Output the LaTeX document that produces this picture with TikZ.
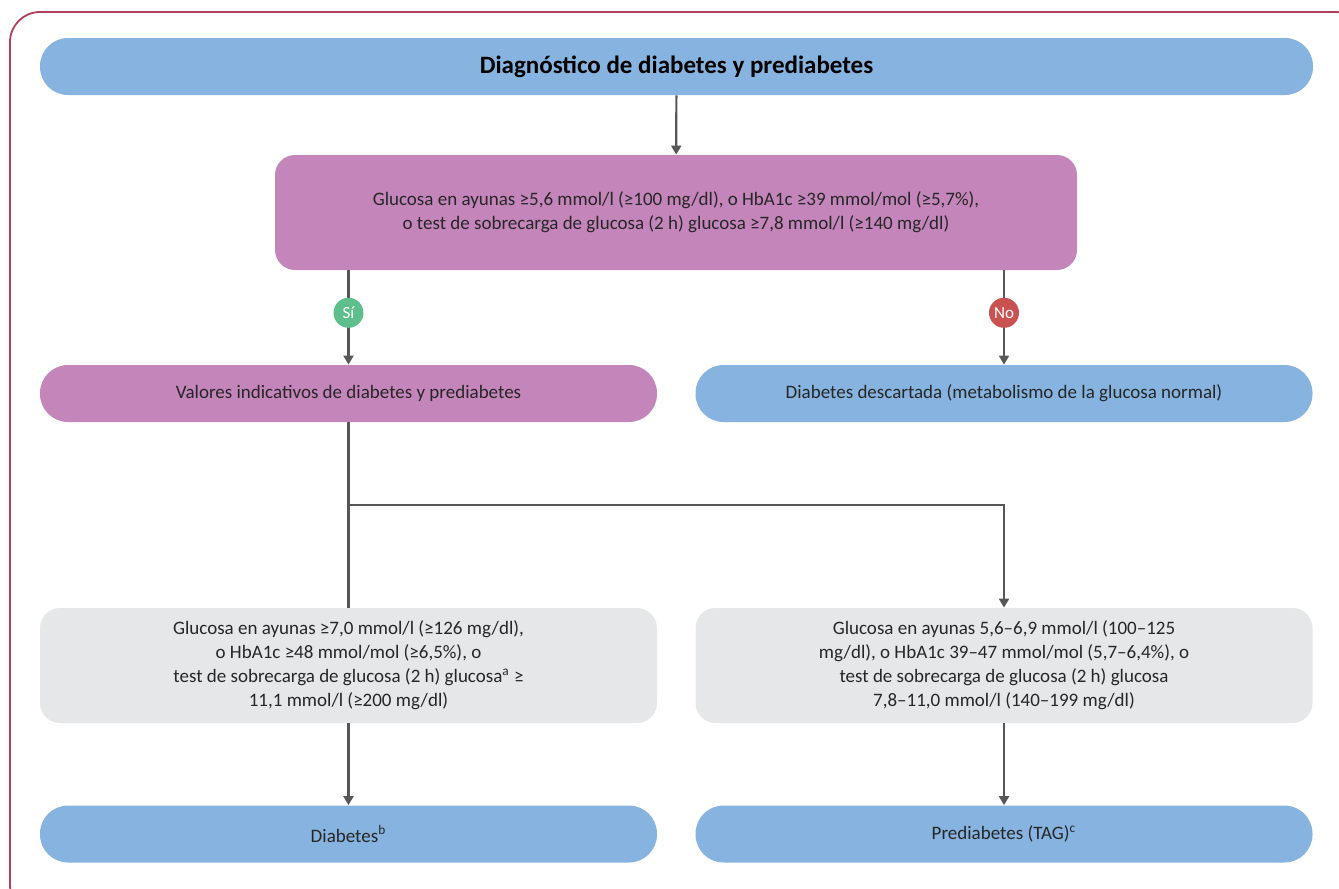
\documentclass[tikz,border=0pt]{standalone}
\usepackage{fontspec}
\setmainfont{Carlito}
\usetikzlibrary{arrows.meta, positioning}
\definecolor{diagBlue}{HTML}{86B3DF}
\definecolor{diagPurple}{HTML}{C485BA}
\definecolor{diagGray}{HTML}{E6E7E8}
\definecolor{lineGray}{HTML}{575757}
\definecolor{siGreen}{HTML}{5FBF8C}
\definecolor{noRed}{HTML}{C9514F}
\definecolor{frameRed}{HTML}{B23E5A}

\begin{document}
\begin{tikzpicture}[x=0.5pt, y=-0.5pt,
    pill/.style={rectangle, rounded corners=14pt, minimum width=308.5pt,
                 minimum height=28.5pt, align=center, inner sep=2pt,
                 font=\fontsize{9.5}{12}\selectfont\color{black!85}},
    block/.style={rectangle, rounded corners=10pt, minimum width=308.5pt,
                  minimum height=57.5pt, align=center, inner sep=2pt,
                  font=\fontsize{9.5}{12}\selectfont\color{black!85}},
    tag/.style={circle, minimum size=15pt, inner sep=0pt,
                font=\fontsize{8.5}{10}\selectfont\color{white}},
    link/.style={draw=lineGray, line width=1.1pt,
                 -{Triangle[length=4.5pt, width=5pt]}},
  ]
    \useasboundingbox (0,0) rectangle (1339,889);
    \draw[frameRed, line width=0.9pt, rounded corners=15pt]
      (10,12) rectangle (1365,915);

    \node[pill, fill=diagBlue, minimum width=636.5pt,
          font=\bfseries\fontsize{12.5}{15}\selectfont] (title) at (676.5,66.5)
      {Diagnóstico de diabetes y prediabetes};
    \node[block, fill=diagPurple, minimum width=401pt] (screen) at (676,212.5)
      {Glucosa en ayunas ≥5,6 mmol/l (≥100 mg/dl), o HbA1c ≥39 mmol/mol (≥5,7\%),\\
       o test de sobrecarga de glucosa (2 h) glucosa ≥7,8 mmol/l (≥140 mg/dl)};
    \node[pill, fill=diagPurple] (indic) at (348.5,393.5)
      {Valores indicativos de diabetes y prediabetes};
    \node[pill, fill=diagBlue] (normal) at (1004,393.5)
      {Diabetes descartada (metabolismo de la glucosa normal)};
    \node[block, fill=diagGray] (critDM) at (348.5,665.5)
      {Glucosa en ayunas ≥7,0 mmol/l (≥126 mg/dl),\\
       o HbA1c ≥48 mmol/mol (≥6,5\%), o\\
       test de sobrecarga de glucosa (2 h) glucosa\textsuperscript{a} ≥\\
       11,1 mmol/l (≥200 mg/dl)};
    \node[block, fill=diagGray] (critPre) at (1004,665.5)
      {Glucosa en ayunas 5,6–6,9 mmol/l (100–125\\
       mg/dl), o HbA1c 39–47 mmol/mol (5,7–6,4\%), o\\
       test de sobrecarga de glucosa (2 h) glucosa\\
       7,8–11,0 mmol/l (140–199 mg/dl)};
    \node[pill, fill=diagBlue] (dm) at (348.5,834) {Diabetes\textsuperscript{b}};
    \node[pill, fill=diagBlue] (pre) at (1004,834) {Prediabetes (TAG)\textsuperscript{c}};

    % connectors
    \draw[link] (title) -- (screen);
    \draw[link] (screen.south -| indic) -- node[tag, fill=siGreen, pos=0.45] (si) {Sí} (indic);
    \draw[link] (screen.south -| normal) -- node[tag, fill=noRed, pos=0.45] (no) {No} (normal);
    \coordinate (split) at (348.5,505);
    \draw[link, -] (indic) -- (critDM);
    \draw[link] (split) -| (critPre);
    \draw[link] (critDM) -- (dm);
    \draw[link] (critPre) -- (pre);
  \end{tikzpicture}
\end{document}
